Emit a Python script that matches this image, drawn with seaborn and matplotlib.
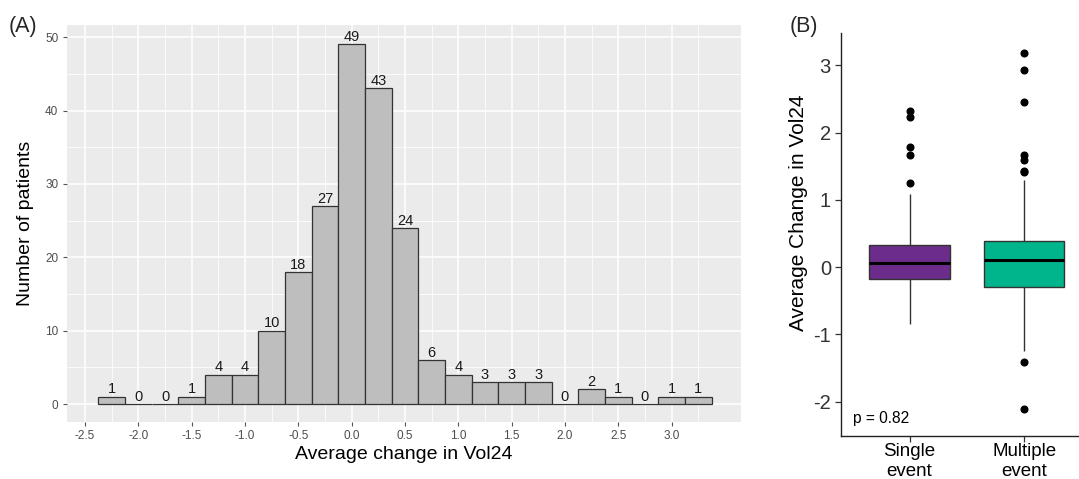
import numpy as np
import pandas as pd
import matplotlib
matplotlib.use("Agg")
import matplotlib.pyplot as plt
from matplotlib.ticker import MultipleLocator, FixedLocator
import seaborn as sns

# ---------------- data ----------------
bin_centers = [-2.25, -2.0, -1.75, -1.5, -1.25, -1.0, -0.75, -0.5, -0.25, 0.0,
               0.25, 0.5, 0.75, 1.0, 1.25, 1.5, 1.75, 2.0, 2.25, 2.5, 2.75, 3.0, 3.25]
bin_counts = [1, 0, 0, 1, 4, 4, 10, 18, 27, 49, 43, 24, 6, 4, 3, 3, 3, 0, 2, 1, 0, 1, 1]
bin_width = 0.25

x_tick_values = [-2.5, -2.0, -1.5, -1.0, -0.5, 0.0, 0.5, 1.0, 1.5, 2.0, 2.5, 3.0]
x_tick_labels = ["-2.5", "-2.0", "-1.5", "-1.0", "-0.5", "0.0", "0.5", "1.0",
                 "1.5", "2.0", "2.5", "3.0"]
y_tick_values = [0, 10, 20, 30, 40, 50]

group_names = ["Single\nevent", "Multiple\nevent"]
single_event = [-0.84, -0.60, -0.45, -0.35, -0.28, -0.22, -0.18, -0.12, -0.07,
                -0.02, 0.02, 0.05, 0.064, 0.10, 0.15, 0.20, 0.25, 0.30, 0.33,
                1.08, 1.25, 1.66, 1.78, 2.23, 2.32]
multiple_event = [-2.11, -1.41, -1.25, -0.95, -0.70, -0.55, -0.45, -0.36, -0.29,
                  -0.22, -0.15, -0.08, -0.03, 0.02, 0.05, 0.08, 0.11, 0.15, 0.19,
                  0.23, 0.27, 0.30, 0.33, 0.36, 0.39, 1.30, 1.42, 1.43, 1.59,
                  1.66, 2.45, 2.93, 3.18]
group_colors = ["#6B2C8B", "#00B48C"]
p_text = "p = 0.82"

# ---------------- figure ----------------
sns.set_theme(style="white")
plt.rcParams["font.family"] = ["Liberation Sans", "DejaVu Sans"]

fig = plt.figure(figsize=(10.79, 4.79), dpi=100)

# ---- Panel A: histogram ----
axA = fig.add_axes([0.0618, 0.1196, 0.6249, 0.8282])
axA.set_facecolor("#EBEBEB")
hist_df = pd.DataFrame({"center": bin_centers, "count": bin_counts})
edges = [c - bin_width / 2 for c in bin_centers] + [bin_centers[-1] + bin_width / 2]
sns.histplot(data=hist_df, x="center", weights="count", bins=edges, ax=axA,
             color="#BEBEBE", edgecolor="#333333", linewidth=0.9, alpha=1,
             zorder=3)
for c, n in zip(bin_centers, bin_counts):
    axA.annotate(str(n), (c, n), xytext=(0, 0.3), textcoords="offset points",
                 ha="center", va="bottom", fontsize=10.5, color="#1a1a1a",
                 zorder=4)

axA.set_xlim(-2.672, 3.65)
axA.set_ylim(-2.4, 51.65)
axA.xaxis.set_major_locator(FixedLocator(x_tick_values))
axA.set_xticklabels(x_tick_labels)
axA.xaxis.set_minor_locator(FixedLocator([v + 0.25 for v in x_tick_values]))
axA.yaxis.set_major_locator(FixedLocator(y_tick_values))
axA.yaxis.set_minor_locator(FixedLocator([5, 15, 25, 35, 45]))
axA.grid(which="major", color="white", linewidth=1.1, zorder=0)
axA.grid(which="minor", color="white", linewidth=0.55, zorder=0)
axA.set_axisbelow(True)
for s in axA.spines.values():
    s.set_visible(False)
axA.tick_params(axis="both", which="major", length=3, width=0.8, color="#555555",
                labelsize=8.5, labelcolor="#4D4D4D", direction="out", pad=3,
                bottom=True, left=True)
axA.tick_params(axis="both", which="minor", length=0)
axA.set_xlabel("Average change in Vol24", fontsize=14, color="black", labelpad=3)
axA.set_ylabel("Number of patients", fontsize=14, color="black", labelpad=8)
fig.text(0.008, 0.945, "(A)", fontsize=15.5, ha="left", va="center")

# ---- Panel B: boxplot ----
axB = fig.add_axes([0.7791, 0.0904, 0.234, 0.8407])
box_df = pd.DataFrame({
    "group": [group_names[0]] * len(single_event) + [group_names[1]] * len(multiple_event),
    "value": single_event + multiple_event,
})
sns.boxplot(data=box_df, x="group", y="value", hue="group", order=group_names,
            hue_order=group_names, palette=group_colors, legend=False, width=0.7,
            saturation=1, showcaps=False,
            ax=axB, whis=1.5, linewidth=1.0, linecolor="#333333",
            medianprops=dict(color="black", linewidth=2.2),
            flierprops=dict(marker="o", markerfacecolor="black",
                            markeredgecolor="black", markersize=4.8))
axB.set_xlim(-0.6, 1.6)
axB.set_ylim(-2.507, 3.48)
axB.set_yticks([-2, -1, 0, 1, 2, 3])
axB.set_yticklabels(["-2", "-1", "0", "1", "2", "3"])
axB.set_facecolor("white")
axB.grid(False)
for side in ["top", "right"]:
    axB.spines[side].set_visible(False)
for side in ["left", "bottom"]:
    axB.spines[side].set_color("#222222")
    axB.spines[side].set_linewidth(1.0)
axB.tick_params(axis="both", length=4, width=0.9, color="#333333",
                labelsize=14.5, labelcolor="#333333", direction="out",
                bottom=True, left=True, pad=3)
axB.tick_params(axis="x", labelcolor="black", labelsize=13.5, pad=1)
for lbl in axB.get_xticklabels():
    lbl.set_linespacing(1.25)
axB.set_xlabel("")
axB.set_ylabel("Average Change in Vol24", fontsize=15, color="black")
axB.yaxis.set_label_coords(-0.128, 0.553)
axB.text(-0.493, -2.32, p_text, fontsize=11.2, ha="left", va="baseline",
         color="black")
fig.text(0.732, 0.945, "(B)", fontsize=15.5, ha="left", va="center")

fig.savefig("out.png", dpi=100)
